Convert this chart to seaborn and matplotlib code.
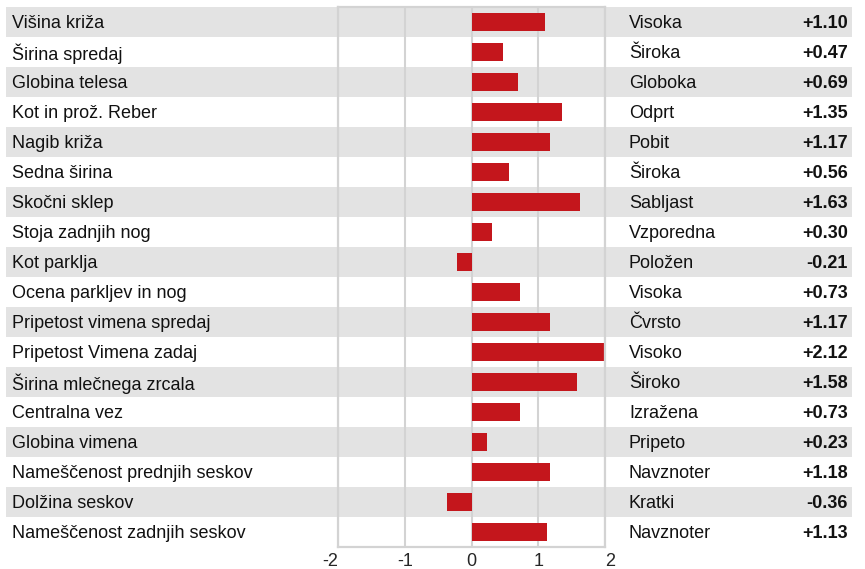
import numpy as np
import pandas as pd
import seaborn as sns
import matplotlib.pyplot as plt
import matplotlib.transforms as mtransforms

# data
traits = ['Višina križa', 'Širina spredaj', 'Globina telesa', 'Kot in prož. Reber',
          'Nagib križa', 'Sedna širina', 'Skočni sklep', 'Stoja zadnjih nog',
          'Kot parklja', 'Ocena parkljev in nog', 'Pripetost vimena spredaj',
          'Pripetost Vimena zadaj', 'Širina mlečnega zrcala', 'Centralna vez',
          'Globina vimena', 'Nameščenost prednjih seskov', 'Dolžina seskov',
          'Nameščenost zadnjih seskov']
descriptions = ['Visoka', 'Široka', 'Globoka', 'Odprt', 'Pobit', 'Široka', 'Sabljast',
                'Vzporedna', 'Položen', 'Visoka', 'Čvrsto', 'Visoko', 'Široko',
                'Izražena', 'Pripeto', 'Navznoter', 'Kratki', 'Navznoter']
scores = [1.10, 0.47, 0.69, 1.35, 1.17, 0.56, 1.63, 0.30, -0.21, 0.73,
          1.17, 2.12, 1.58, 0.73, 0.23, 1.18, -0.36, 1.13]
tick_values = [-2, -1, 0, 1, 2]

df = pd.DataFrame({'trait': traits, 'desc': descriptions, 'score': scores})

sns.set_style('white')
plt.rcParams['font.family'] = ['Liberation Sans', 'DejaVu Sans']

W, H = 865, 569
FS = 13
fig = plt.figure(figsize=(W / 100, H / 100), dpi=100)
ax = fig.add_axes([338 / W, 1 - 547 / H, 267 / W, 540 / H])

# alternating grey row bands across the whole width
for i in range(len(df)):
    if i % 2 == 0:
        ax.axhspan(i - 0.5, i + 0.5, xmin=(6 - 338) / 267, xmax=(852 - 338) / 267,
                   color='#e3e3e3', lw=0, zorder=0, clip_on=False)

sns.barplot(data=df, x='score', y='trait', orient='h', color='#c4161c',
            saturation=1, width=0.6, linewidth=0, ax=ax, zorder=2)

ax.set_xlim(-2, 2)
ax.set_ylim(len(df) - 0.5, -0.5)
ax.set_xticks(tick_values)
ax.set_xticklabels([str(v) for v in tick_values])
tl = ax.get_xticklabels()
tl[0].set_ha('right')
tl[-1].set_ha('left')
ax.tick_params(axis='x', length=0, labelsize=FS, pad=4)
ax.set_yticks([])
ax.set_xlabel('')
ax.set_ylabel('')
ax.grid(axis='x', color='#d3d3d3', lw=1.5, zorder=1)
ax.set_axisbelow(True)
for s in ax.spines.values():
    s.set_color('#d3d3d3')
    s.set_linewidth(1.6)

# side texts
trans = mtransforms.blended_transform_factory(fig.transFigure, ax.transData)
for i, row in df.iterrows():
    ax.text(12 / W, i, row['trait'], transform=trans, ha='left',
            va='center_baseline', fontsize=FS, color='#111111')
    ax.text(629 / W, i, row['desc'], transform=trans, ha='left',
            va='center_baseline', fontsize=FS, color='#111111')
    ax.text(848 / W, i, f"{row['score']:+.2f}", transform=trans, ha='right',
            va='center_baseline', fontsize=FS, fontweight='bold', color='#111111')

fig.savefig('out.png', dpi=100)
